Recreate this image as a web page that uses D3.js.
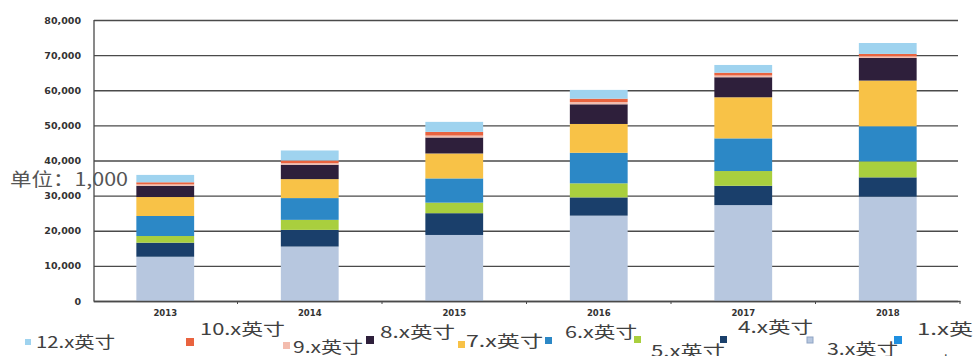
<!DOCTYPE html>
<html>
<head>
<meta charset="utf-8">
<script src="https://cdn.jsdelivr.net/npm/d3@7"></script>
<style>
  body { margin: 0; background: #fff; }
  svg { display: block; }
  .tick text { font-family: "DejaVu Sans", Verdana, sans-serif; font-weight: bold; fill: #333; }
</style>
</head>
<body>
<div id="chart"></div>
<script>
// categories and series (unit: 1,000), stacked bottom to top
const years = ['2013', '2014', '2015', '2016', '2017', '2018'];
const seriesNames = ['1.x英寸', '3.x英寸', '4.x英寸', '5.x英寸', '6.x英寸', '7.x英寸', '8.x英寸', '9.x英寸', '10.x英寸', '12.x英寸'];
const s1x  = [0, 0, 0, 0, 0, 0];
const s3x  = [12600, 15500, 18800, 24300, 27300, 29700];
const s4x  = [4000, 4750, 6200, 5200, 5500, 5500];
const s5x  = [1900, 2850, 3000, 4000, 4200, 4550];
const s6x  = [5700, 6200, 6900, 8700, 9300, 10000];
const s7x  = [5400, 5400, 7100, 8200, 11700, 13000];
const s8x  = [3200, 4100, 4550, 5600, 5700, 6450];
const s9x  = [400, 450, 550, 650, 500, 450];
const s10x = [600, 750, 1050, 950, 800, 700];
const s12x = [2100, 2850, 2850, 2500, 2200, 3100];
const yTicks = [0, 10000, 20000, 30000, 40000, 50000, 60000, 70000, 80000];

const colors = {
    '1.x英寸': '#1f8fe0',
    '3.x英寸': '#b7c7df',
    '4.x英寸': '#1a3f6b',
    '5.x英寸': '#a9cf3e',
    '6.x英寸': '#2c88c6',
    '7.x英寸': '#f8c247',
    '8.x英寸': '#2e1f3b',
    '9.x英寸': '#f3bcae',
    '10.x英寸': '#e9633f',
    '12.x英寸': '#9fd3ef'
};

const allSeries = [s1x, s3x, s4x, s5x, s6x, s7x, s8x, s9x, s10x, s12x];
const table = years.map((yr, i) => {
    const row = { year: yr };
    seriesNames.forEach((name, k) => { row[name] = allSeries[k][i]; });
    return row;
});

const width = 973, height = 356;
const svg = d3.select('#chart').append('svg')
    .attr('width', width)
    .attr('height', height);

const x = d3.scaleBand()
    .domain(years)
    .range([93, 960])
    .paddingInner(0.6)
    .paddingOuter(0.3);

const y = d3.scaleLinear()
    .domain([0, 80000])
    .range([301, 20]);

// gridlines + y labels
const yAxis = svg.append('g')
    .attr('transform', 'translate(94,0)')
    .call(d3.axisLeft(y)
        .tickValues(yTicks)
        .tickFormat(d3.format(','))
        .tickSize(-864)
        .tickPadding(13));
yAxis.select('.domain').remove();
yAxis.selectAll('.tick line').attr('stroke', '#4a4a4a').attr('stroke-width', 1.3);
yAxis.selectAll('.tick text').style('font-size', '9.5px');

// left axis line
svg.append('line')
    .attr('x1', 94).attr('x2', 94)
    .attr('y1', y(80000)).attr('y2', y(0))
    .attr('stroke', '#4a4a4a').attr('stroke-width', 1.3);

// stacked bars
const stacked = d3.stack().keys(seriesNames)(table);
svg.append('g').selectAll('g')
    .data(stacked)
    .join('g')
    .attr('fill', d => colors[d.key])
    .selectAll('rect')
    .data(d => d)
    .join('rect')
    .attr('x', d => x(d.data.year))
    .attr('width', x.bandwidth())
    .attr('y', d => y(d[1]))
    .attr('height', d => y(d[0]) - y(d[1]));

// x axis
const xAxis = svg.append('g')
    .attr('transform', 'translate(0,' + y(0) + ')')
    .call(d3.axisBottom(x).tickSize(0).tickPadding(9));
xAxis.select('.domain').attr('stroke', '#4a4a4a').attr('stroke-width', 1.3);
xAxis.selectAll('.tick text').style('font-size', '8.5px');

// small ticks between categories
const step = x.step();
svg.append('g').selectAll('line')
    .data(years.slice(1).concat(['end']))
    .join('line')
    .attr('x1', (d, i) => x(years[i]) + x.bandwidth() + step * x.paddingInner() / 2)
    .attr('x2', (d, i) => x(years[i]) + x.bandwidth() + step * x.paddingInner() / 2)
    .attr('y1', y(0)).attr('y2', y(0) + 3)
    .attr('stroke', '#4a4a4a');

// unit label
svg.append('text')
    .attr('x', 10).attr('y', 186)
    .attr('textLength', 118)
    .attr('lengthAdjust', 'spacingAndGlyphs')
    .style('font-family', '"Noto Sans CJK SC", "DejaVu Sans", sans-serif')
    .style('font-size', '18px')
    .style('fill', '#555')
    .text('单位：1,000');

// legend (scattered layout as in the original)
const legendLayout = [
    { name: '12.x英寸', mx: 25, my: 339, ms: 6, tx: 36, ty: 348, tw: 79 },
    { name: '10.x英寸', mx: 186, my: 338, ms: 8, tx: 200, ty: 335, tw: 85 },
    { name: '9.x英寸',  mx: 283, my: 342, ms: 7, tx: 293, ty: 353, tw: 70 },
    { name: '8.x英寸',  mx: 366, my: 336, ms: 8, tx: 380, ty: 338, tw: 75 },
    { name: '7.x英寸',  mx: 458, my: 341, ms: 7, tx: 466, ty: 347, tw: 77 },
    { name: '6.x英寸',  mx: 545, my: 337, ms: 7, tx: 565, ty: 338, tw: 72 },
    { name: '5.x英寸',  mx: 634, my: 336, ms: 7, tx: 651, ty: 357, tw: 74 },
    { name: '4.x英寸',  mx: 720, my: 336, ms: 7, tx: 738, ty: 333, tw: 75 },
    { name: '3.x英寸',  mx: 807, my: 337, ms: 6, tx: 827, ty: 355, tw: 71 },
    { name: '1.x英寸',  mx: 894, my: 336, ms: 8, tx: 917, ty: 335, tw: 56 }
];
const legend = svg.append('g');
legend.selectAll('rect')
    .data(legendLayout)
    .join('rect')
    .attr('x', d => d.mx).attr('y', d => d.my)
    .attr('width', d => d.ms).attr('height', d => d.ms)
    .attr('fill', d => colors[d.name])
    .attr('stroke', d => d.name === '3.x英寸' ? '#8fa4c4' : 'none');
legend.selectAll('text')
    .data(legendLayout)
    .join('text')
    .attr('x', d => d.tx).attr('y', d => d.ty)
    .attr('textLength', d => d.tw)
    .attr('lengthAdjust', 'spacingAndGlyphs')
    .style('font-family', '"Noto Sans CJK SC", "DejaVu Sans", sans-serif')
    .style('font-size', '16px')
    .style('fill', '#404040')
    .text(d => d.name === '1.x英寸' ? '1.x英' : d.name);
// wrapped last character of the final legend entry
legend.append('text')
    .attr('x', 935).attr('y', 368)
    .style('font-family', '"Noto Sans CJK SC", sans-serif')
    .style('font-size', '16px')
    .style('fill', '#404040')
    .text('寸');
</script>
</body>
</html>
